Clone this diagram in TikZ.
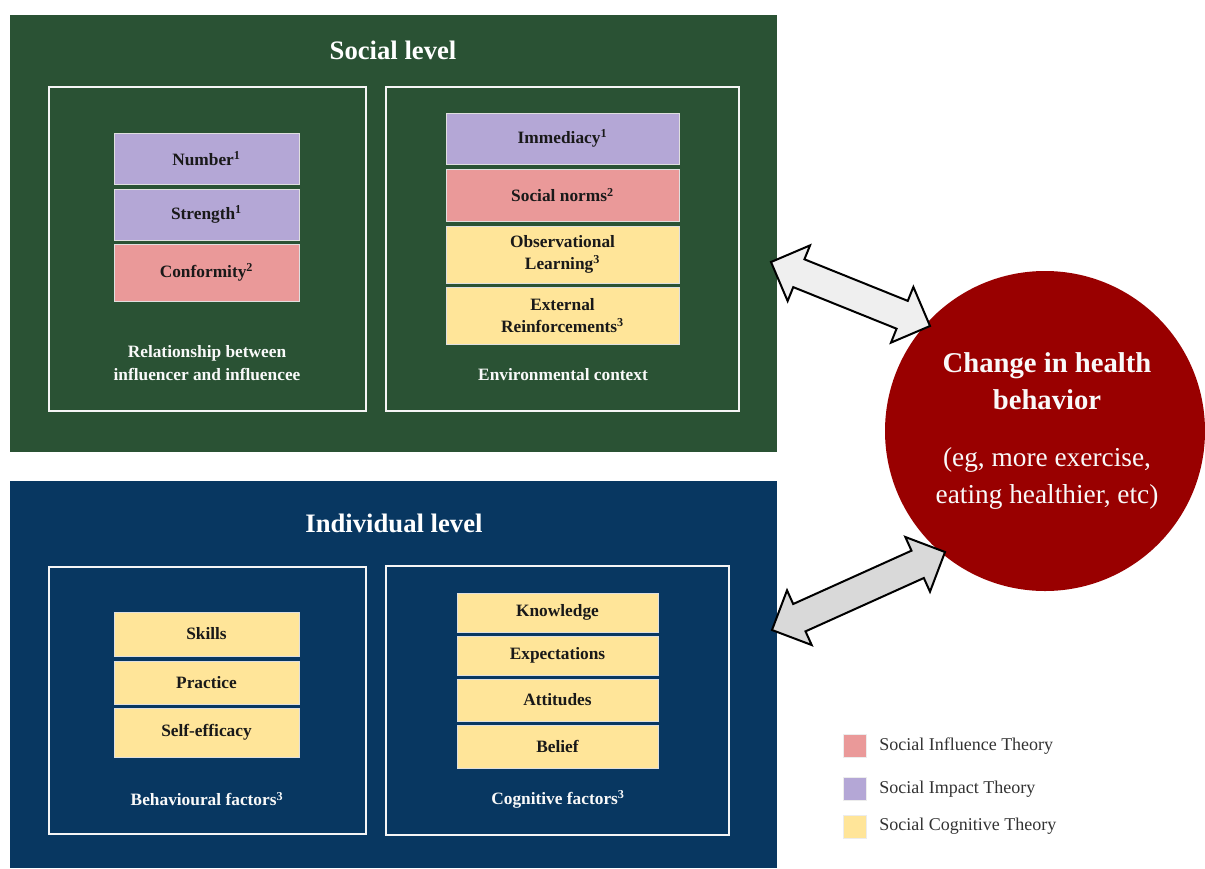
\documentclass[tikz,border=0pt]{standalone}
\usepackage{fontspec}
\setmainfont{Liberation Serif}
\usetikzlibrary{calc}
\definecolor{socgreen}{HTML}{2A5234}
\definecolor{indblue}{HTML}{083761}
\definecolor{circred}{HTML}{990000}
\definecolor{purp}{HTML}{B4A7D6}
\definecolor{pinkc}{HTML}{EA9999}
\definecolor{yelc}{HTML}{FFE599}
\definecolor{arrlight}{HTML}{EFEFEF}
\definecolor{arrdark}{HTML}{D9D9D9}
\newcommand\rbox[6]{\node[#1, minimum width={(#4-#2)*0.75pt}, minimum height={(#5-#3)*0.75pt}] (#6) at ({(#2+#4)/2},{(#3+#5)/2})}
\newcommand\blockarrow[3]{%
  \draw[arrowline, fill=#3] (#1)
    -- ($(#1)!22.5pt!(#2)!22.5pt!90:(#2)$)
    -- ($(#1)!22.5pt!(#2)!11.25pt!90:(#2)$)
    -- ($(#2)!22.5pt!(#1)!11.25pt!-90:(#1)$)
    -- ($(#2)!22.5pt!(#1)!22.5pt!-90:(#1)$)
    -- (#2)
    -- ($(#2)!22.5pt!(#1)!22.5pt!90:(#1)$)
    -- ($(#2)!22.5pt!(#1)!11.25pt!90:(#1)$)
    -- ($(#1)!22.5pt!(#2)!11.25pt!-90:(#2)$)
    -- ($(#1)!22.5pt!(#2)!22.5pt!-90:(#2)$)
    -- cycle;}
\begin{document}
\begin{tikzpicture}[x=0.75pt,y=-0.75pt,
  panel/.style={draw=none, inner sep=0pt},
  frame/.style={draw=gray!45, double=white!92!gray, double distance=1.2pt, line width=0.5pt, inner sep=0pt},
  cbox/.style={draw=white!75!gray, line width=0.4pt, inner sep=0pt, align=center, text=black!90,
    font=\fontsize{13}{16.5}\selectfont\bfseries},
  flabel/.style={text=white!95!gray, align=center, font=\fontsize{13}{17}\selectfont\bfseries},
  ptitle/.style={text=white, font=\fontsize{20}{24}\selectfont\bfseries},
  arrowline/.style={draw=black, line width=1.5pt, line join=miter},
  legsq/.style={inner sep=0pt, minimum size={23*0.75pt}, draw=white!85!gray, line width=0.3pt},
  legtext/.style={anchor=west, inner sep=0pt, text=black!80, font=\fontsize{13.5}{16}\selectfont}]
\useasboundingbox (0,0) rectangle (1205,868);
\fill[white] (0,0) rectangle (1205,868);

% panels
\rbox{panel, fill=socgreen}{10}{15}{777}{452}{soc} {};
\rbox{panel, fill=indblue}{10}{481}{777}{868}{ind} {};
\node[ptitle] (soct) at (393,50) {Social level};
\node[ptitle] (indt) at (394,523) {Individual level};

% frames
\rbox{frame}{49}{87}{366}{411}{rel} {};
\rbox{frame}{386}{87}{739}{411}{env} {};
\rbox{frame}{49}{567}{366}{834}{beh} {};
\rbox{frame}{386}{566}{729}{835}{cog} {};

% relationship boxes
\rbox{cbox, fill=purp}{114}{133}{299}{184}{num} {Number\textsuperscript{1}};
\rbox{cbox, fill=purp}{114}{189}{299}{240}{str} {Strength\textsuperscript{1}};
\rbox{cbox, fill=pinkc}{114}{244}{299}{301}{conf} {Conformity\textsuperscript{2}};
\node[flabel] (rell) at (207,363) {Relationship between\\influencer and influencee};

% environment boxes
\rbox{cbox, fill=purp}{446}{113}{679}{164}{imm} {Immediacy\textsuperscript{1}};
\rbox{cbox, fill=pinkc}{446}{169}{679}{221}{norms} {Social norms\textsuperscript{2}};
\rbox{cbox, fill=yelc}{446}{226}{679}{283}{obs} {Observational\\Learning\textsuperscript{3}};
\rbox{cbox, fill=yelc}{446}{287}{679}{344}{ext} {External\\Reinforcements\textsuperscript{3}};
\node[flabel] (envl) at (563,375) {Environmental context};

% behavioural boxes
\rbox{cbox, fill=yelc}{114}{612}{299}{656}{skills} {Skills};
\rbox{cbox, fill=yelc}{114}{661}{299}{704}{prac} {Practice};
\rbox{cbox, fill=yelc}{114}{708}{299}{757}{selfe} {Self-efficacy};
\node[flabel] (behl) at (207,799) {Behavioural factors\textsuperscript{3}};

% cognitive boxes
\rbox{cbox, fill=yelc}{457}{593}{658}{632}{know} {Knowledge};
\rbox{cbox, fill=yelc}{457}{636}{658}{675}{expt} {Expectations};
\rbox{cbox, fill=yelc}{457}{679}{658}{721}{att} {Attitudes};
\rbox{cbox, fill=yelc}{457}{725}{658}{768}{bel} {Belief};
\node[flabel] (cogl) at (558,799) {Cognitive factors\textsuperscript{3}};

% circle
\node[circle, fill=circred, inner sep=0pt, minimum size={320*0.75pt}] (chb) at (1045,431) {};
\node[text=white!95!gray, align=center, font=\fontsize{21.5}{27.75}\selectfont\bfseries] (chbt) at (1047,381) {Change in health\\behavior};
\node[text=white!95!gray, align=center, font=\fontsize{20.5}{27.75}\selectfont] (chbs) at (1047,478) {(eg, more exercise,\\eating healthier, etc)};

% arrows
\coordinate (ua1) at (771,262);
\coordinate (ua2) at (930,326);
\coordinate (la1) at (772,630);
\coordinate (la2) at (945,552);
\blockarrow{ua1}{ua2}{arrlight}
\blockarrow{la1}{la2}{arrdark}

% legend
\node[legsq, fill=pinkc] (lg1) at (854.5,746) {};
\node[legsq, fill=purp] (lg2) at (854.5,789) {};
\node[legsq, fill=yelc] (lg3) at (854.5,826.5) {};
\node[legtext] (lt1) at (879,746) {Social Influence Theory};
\node[legtext] (lt2) at (879,789) {Social Impact Theory};
\node[legtext] (lt3) at (879,826) {Social Cognitive Theory};
\end{tikzpicture}
\end{document}
